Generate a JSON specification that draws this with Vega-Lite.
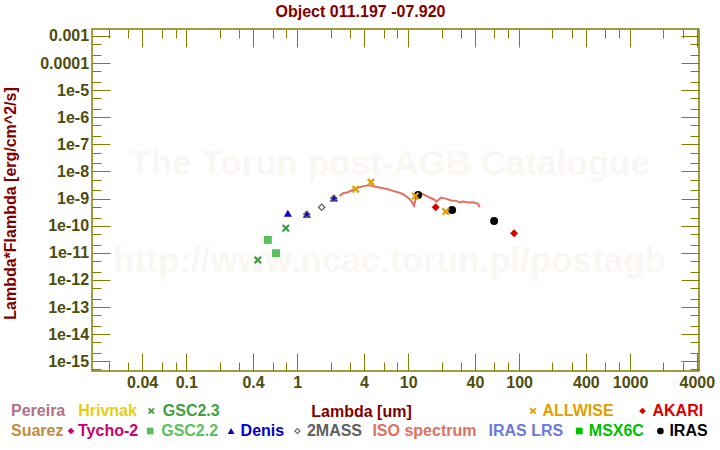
{
  "$schema": "https://vega.github.io/schema/vega-lite/v6.json",
  "width": 607,
  "height": 342,
  "autosize": {"type": "none"},
  "padding": {"left": 92, "top": 29, "right": 21, "bottom": 79},
  "background": "white",
  "title": {"text": "Object 011.197 -07.920", "anchor": "middle", "dx": -35, "offset": 8, "fontSize": 16, "fontWeight": "bold", "font": "Liberation Sans", "color": "#800000"},
  "config": {
    "view": {"stroke": "#808000", "strokeWidth": 1.5},
    "axis": {"domain": false, "grid": false, "tickColor": "#808000", "tickWidth": 1, "labelFont": "Liberation Sans", "labelFontSize": 16, "labelFontWeight": "bold", "labelColor": "#4d4d0d", "labelOverlap": false, "labelFlush": false, "labelBound": false, "titleFont": "Liberation Sans", "titleFontSize": 16, "titleFontWeight": "bold", "titleColor": "#800000"},
    "legend": {"labelFont": "Liberation Sans", "labelFontSize": 16, "labelFontWeight": "bold", "orient": "none", "direction": "horizontal", "padding": 0, "columnPadding": 0, "symbolSize": 45, "symbolStrokeWidth": 0}
  },
  "datasets": {
    "phot": [
      {"catalog": "GSC2.3", "lambda": 0.441, "flux": 5.48e-12},
      {"catalog": "GSC2.3", "lambda": 0.789, "flux": 8.11e-11},
      {"catalog": "GSC2.2", "lambda": 0.543, "flux": 3.0e-11},
      {"catalog": "GSC2.2", "lambda": 0.644, "flux": 9.7e-12},
      {"catalog": "Denis", "lambda": 0.823, "flux": 2.9e-10},
      {"catalog": "Denis", "lambda": 1.22, "flux": 2.67e-10},
      {"catalog": "Denis", "lambda": 2.14, "flux": 1.04e-9},
      {"catalog": "2MASS", "lambda": 1.22, "flux": 2.67e-10},
      {"catalog": "2MASS", "lambda": 1.66, "flux": 4.83e-10},
      {"catalog": "2MASS", "lambda": 2.14, "flux": 1.04e-9},
      {"catalog": "IRAS", "lambda": 12.3, "flux": 1.37e-9},
      {"catalog": "IRAS", "lambda": 24.9, "flux": 3.84e-10},
      {"catalog": "IRAS", "lambda": 59.5, "flux": 1.51e-10},
      {"catalog": "ALLWISE", "lambda": 3.36, "flux": 2.23e-9},
      {"catalog": "ALLWISE", "lambda": 4.62, "flux": 4.05e-9},
      {"catalog": "ALLWISE", "lambda": 11.6, "flux": 1.26e-9},
      {"catalog": "ALLWISE", "lambda": 21.8, "flux": 3.33e-10},
      {"catalog": "AKARI", "lambda": 17.7, "flux": 4.83e-10},
      {"catalog": "AKARI", "lambda": 90.1, "flux": 5.3e-11}
    ],
    "spec": [
      {"lambda": 2.409, "flux": 1.262e-9},
      {"lambda": 2.581, "flux": 1.585e-9},
      {"lambda": 2.864, "flux": 1.726e-9},
      {"lambda": 3.178, "flux": 2.104e-9},
      {"lambda": 3.65, "flux": 2.637e-9},
      {"lambda": 4.05, "flux": 2.951e-9},
      {"lambda": 4.493, "flux": 3.126e-9},
      {"lambda": 4.985, "flux": 2.79e-9},
      {"lambda": 5.342, "flux": 2.637e-9},
      {"lambda": 5.926, "flux": 2.421e-9},
      {"lambda": 6.577, "flux": 2.223e-9},
      {"lambda": 7.297, "flux": 1.931e-9},
      {"lambda": 8.094, "flux": 1.726e-9},
      {"lambda": 8.981, "flux": 1.455e-9},
      {"lambda": 9.627, "flux": 1.192e-9},
      {"lambda": 10.31, "flux": 9.51e-10},
      {"lambda": 10.9, "flux": 7.16e-10},
      {"lambda": 11.29, "flux": 5.39e-10},
      {"lambda": 11.52, "flux": 7.79e-10},
      {"lambda": 11.85, "flux": 1.192e-9},
      {"lambda": 12.7, "flux": 1.585e-9},
      {"lambda": 13.61, "flux": 1.455e-9},
      {"lambda": 14.59, "flux": 1.262e-9},
      {"lambda": 15.63, "flux": 1.096e-9},
      {"lambda": 16.99, "flux": 9.51e-10},
      {"lambda": 17.96, "flux": 7.79e-10},
      {"lambda": 18.98, "flux": 9.51e-10},
      {"lambda": 19.93, "flux": 1.096e-9},
      {"lambda": 22.11, "flux": 9.78e-10},
      {"lambda": 24.52, "flux": 8.49e-10},
      {"lambda": 27.21, "flux": 8.26e-10},
      {"lambda": 29.16, "flux": 7.16e-10},
      {"lambda": 31.25, "flux": 7.79e-10},
      {"lambda": 34.67, "flux": 7.16e-10},
      {"lambda": 38.47, "flux": 7.36e-10},
      {"lambda": 42.68, "flux": 6.4e-10},
      {"lambda": 44.19, "flux": 4.82e-10}
    ]
  },
  "layer": [
    {
      "data": {"values": [{}]},
      "mark": {"type": "text", "text": "The Torun post-AGB Catalogue", "font": "Liberation Sans", "fontSize": 35, "fontWeight": "bold", "color": "#faf7f2", "align": "center", "baseline": "alphabetic"},
      "encoding": {
        "x": {"datum": 6.81, "type": "quantitative", "scale": {"type": "log", "domain": [0.01412, 4185], "nice": false}, "axis": null},
        "y": {"datum": 7.5e-9, "type": "quantitative", "scale": {"type": "log", "domain": [4.39e-16, 1.8e-3], "nice": false}, "axis": null}
      }
    },
    {
      "data": {"values": [{}]},
      "mark": {"type": "text", "text": "http://www.ncac.torun.pl/postagb", "font": "Liberation Sans", "fontSize": 35, "fontWeight": "bold", "color": "#faf7f2", "align": "center", "baseline": "alphabetic"},
      "encoding": {
        "x": {"datum": 6.81, "type": "quantitative", "scale": {"type": "log", "domain": [0.01412, 4185], "nice": false}, "axis": null},
        "y": {"datum": 1.98e-12, "type": "quantitative", "scale": {"type": "log", "domain": [4.39e-16, 1.8e-3], "nice": false}, "axis": null}
      }
    },
    {
      "data": {"name": "spec"},
      "mark": {"type": "line", "color": "#e07060", "strokeWidth": 2},
      "encoding": {
        "x": {"field": "lambda", "type": "quantitative", "scale": {"type": "log", "domain": [0.01412, 4185], "nice": false},
          "axis": {"orient": "bottom", "values": [0.04, 0.1, 0.4, 1, 4, 10, 40, 100, 400, 1000, 4000], "tickSize": -18, "labelPadding": 21, "labelExpr": "'' + datum.value", "title": "Lambda [um]", "titleX": 269, "titleY": 45, "titleBaseline": "alphabetic"}},
        "y": {"field": "flux", "type": "quantitative", "scale": {"type": "log", "domain": [4.39e-16, 1.8e-3], "nice": false},
          "axis": {"orient": "left", "values": [1e-15, 1e-14, 1e-13, 1e-12, 1e-11, 1e-10, 1e-9, 1e-8, 1e-7, 1e-6, 1e-5, 1e-4, 1e-3], "tickSize": -18, "labelPadding": 21.4, "labelExpr": "datum.value > 5e-5 ? (datum.value > 5e-4 ? '0.001' : '0.0001') : '1e' + round(log(datum.value) / LN10)", "title": "Lambda*Flambda [erg/cm^2/s]", "titleX": -77, "titleY": 174, "titleAngle": -90, "titleBaseline": "alphabetic"}}
      }
    },
    {
      "data": {"name": "phot"},
      "transform": [{"filter": {"field": "catalog", "oneOf": ["GSC2.2", "Denis", "2MASS", "IRAS"]}}],
      "mark": {"type": "point", "filled": true, "size": 64, "opacity": 1},
      "encoding": {
        "x": {"field": "lambda", "type": "quantitative", "scale": {"type": "log", "domain": [0.01412, 4185], "nice": false},
          "axis": {"orient": "bottom", "values": [0.02, 0.03, 0.06, 0.08, 0.2, 0.3, 0.6, 0.8, 2, 3, 6, 8, 20, 30, 60, 80, 200, 300, 600, 800, 2000, 3000], "tickSize": -9, "labels": false, "title": null}},
        "y": {"field": "flux", "type": "quantitative", "scale": {"type": "log", "domain": [4.39e-16, 1.8e-3], "nice": false},
          "axis": {"orient": "left", "values": [5e-16, 2e-15, 5e-15, 2e-14, 5e-14, 2e-13, 5e-13, 2e-12, 5e-12, 2e-11, 5e-11, 2e-10, 5e-10, 2e-9, 5e-9, 2e-8, 5e-8, 2e-7, 5e-7, 2e-6, 5e-6, 2e-5, 5e-5, 2e-4, 5e-4], "tickSize": -9, "labels": false, "title": null}},
        "color": {"field": "catalog", "type": "nominal",
          "scale": {"domain": ["Suarez", "Tycho-2", "GSC2.2", "Denis", "2MASS", "ISO spectrum", "IRAS LRS", "MSX6C", "IRAS"], "range": ["#c08c40", "#cc0070", "#5cbf5c", "#0000c8", "#606060", "#e07060", "#6c78dc", "#00c000", "#000000"]},
          "legend": {"title": null, "legendX": -98.5, "legendY": 394,
            "labelColor": {"expr": "['#c08c40','#cc0070','#5cbf5c','#0000c8','#606060','#e07060','#6c78dc','#00c000','#000000'][indexof(['Suarez','Tycho-2','GSC2.2','Denis','2MASS','ISO spectrum','IRAS LRS','MSX6C','IRAS'], datum.value)]"},
            "labelOffset": {"expr": "[1.5,-1.0,3.0,1.5,1.5,-6.1,-4,1.5,1.0][indexof(['Suarez','Tycho-2','GSC2.2','Denis','2MASS','ISO spectrum','IRAS LRS','MSX6C','IRAS'], datum.value)]"},
            "symbolOffset": {"expr": "[0,-0.5,3.7,4.6,4.9,0,0,7.8,7.9][indexof(['Suarez','Tycho-2','GSC2.2','Denis','2MASS','ISO spectrum','IRAS LRS','MSX6C','IRAS'], datum.value)]"}}},
        "shape": {"field": "catalog", "type": "nominal",
          "scale": {"domain": ["Suarez", "Tycho-2", "GSC2.2", "Denis", "2MASS", "ISO spectrum", "IRAS LRS", "MSX6C", "IRAS"], "range": ["M0,0L0,0Z", "diamond", "square", "triangle-up", "M0,-1L1,0L0,1L-1,0ZM0,-0.55L-0.55,0L0,0.55L0.55,0Z", "M0,0L0,0Z", "M0,0L0,0Z", "square", "circle"]},
          "legend": {"title": null, "legendX": -98.5, "legendY": 394,
            "labelColor": {"expr": "['#c08c40','#cc0070','#5cbf5c','#0000c8','#606060','#e07060','#6c78dc','#00c000','#000000'][indexof(['Suarez','Tycho-2','GSC2.2','Denis','2MASS','ISO spectrum','IRAS LRS','MSX6C','IRAS'], datum.value)]"},
            "labelOffset": {"expr": "[1.5,-1.0,3.0,1.5,1.5,-6.1,-4,1.5,1.0][indexof(['Suarez','Tycho-2','GSC2.2','Denis','2MASS','ISO spectrum','IRAS LRS','MSX6C','IRAS'], datum.value)]"},
            "symbolOffset": {"expr": "[0,-0.5,3.7,4.6,4.9,0,0,7.8,7.9][indexof(['Suarez','Tycho-2','GSC2.2','Denis','2MASS','ISO spectrum','IRAS LRS','MSX6C','IRAS'], datum.value)]"}}}
      }
    },
    {
      "data": {"name": "phot"},
      "transform": [{"filter": {"field": "catalog", "oneOf": ["GSC2.3"]}}],
      "mark": {"type": "point", "filled": true, "size": 64, "opacity": 1},
      "encoding": {
        "x": {"field": "lambda", "type": "quantitative", "scale": {"type": "log", "domain": [0.01412, 4185], "nice": false},
          "axis": {"orient": "top", "values": [0.04, 0.1, 0.4, 1, 4, 10, 40, 100, 400, 1000, 4000], "tickSize": -18, "labels": false, "title": null}},
        "y": {"field": "flux", "type": "quantitative", "scale": {"type": "log", "domain": [4.39e-16, 1.8e-3], "nice": false},
          "axis": {"orient": "right", "values": [1e-15, 1e-14, 1e-13, 1e-12, 1e-11, 1e-10, 1e-9, 1e-8, 1e-7, 1e-6, 1e-5, 1e-4, 1e-3], "tickSize": -18, "labels": false, "title": null}},
        "color": {"field": "catalog", "type": "nominal",
          "scale": {"domain": ["Pereira", "Hrivnak", "GSC2.3"], "range": ["#b07088", "#e6cf10", "#40a040"]},
          "legend": {"title": null, "legendX": -98.5, "legendY": 374,
            "labelColor": {"expr": "['#b07088','#e6cf10','#40a040'][indexof(['Pereira','Hrivnak','GSC2.3'], datum.value)]"},
            "labelOffset": {"expr": "[1.5,-3.3,3.5][indexof(['Pereira','Hrivnak','GSC2.3'], datum.value)]"},
            "symbolOffset": {"expr": "[0,0,5.8][indexof(['Pereira','Hrivnak','GSC2.3'], datum.value)]"}}},
        "shape": {"field": "catalog", "type": "nominal",
          "scale": {"domain": ["Pereira", "Hrivnak", "GSC2.3"], "range": ["M0,0L0,0Z", "M0,0L0,0Z", "M-1,-0.6L-0.6,-1L0,-0.4L0.6,-1L1,-0.6L0.4,0L1,0.6L0.6,1L0,0.4L-0.6,1L-1,0.6L-0.4,0Z"]},
          "legend": {"title": null, "legendX": -98.5, "legendY": 374,
            "labelColor": {"expr": "['#b07088','#e6cf10','#40a040'][indexof(['Pereira','Hrivnak','GSC2.3'], datum.value)]"},
            "labelOffset": {"expr": "[1.5,-3.3,3.5][indexof(['Pereira','Hrivnak','GSC2.3'], datum.value)]"},
            "symbolOffset": {"expr": "[0,0,5.8][indexof(['Pereira','Hrivnak','GSC2.3'], datum.value)]"}}}
      }
    },
    {
      "data": {"name": "phot"},
      "transform": [{"filter": {"field": "catalog", "oneOf": ["ALLWISE", "AKARI"]}}],
      "mark": {"type": "point", "filled": true, "size": 64, "opacity": 1},
      "encoding": {
        "x": {"field": "lambda", "type": "quantitative", "scale": {"type": "log", "domain": [0.01412, 4185], "nice": false},
          "axis": {"orient": "top", "values": [0.02, 0.03, 0.06, 0.08, 0.2, 0.3, 0.6, 0.8, 2, 3, 6, 8, 20, 30, 60, 80, 200, 300, 600, 800, 2000, 3000], "tickSize": -9, "labels": false, "title": null}},
        "y": {"field": "flux", "type": "quantitative", "scale": {"type": "log", "domain": [4.39e-16, 1.8e-3], "nice": false},
          "axis": {"orient": "right", "values": [5e-16, 2e-15, 5e-15, 2e-14, 5e-14, 2e-13, 5e-13, 2e-12, 5e-12, 2e-11, 5e-11, 2e-10, 5e-10, 2e-9, 5e-9, 2e-8, 5e-8, 2e-7, 5e-7, 2e-6, 5e-6, 2e-5, 5e-5, 2e-4, 5e-4], "tickSize": -9, "labels": false, "title": null}},
        "color": {"field": "catalog", "type": "nominal",
          "scale": {"domain": ["ALLWISE", "AKARI"], "range": ["#e0a000", "#d80000"]},
          "legend": {"title": null, "legendX": 433, "legendY": 374,
            "labelColor": {"expr": "datum.value == 'ALLWISE' ? '#e0a000' : '#d80000'"},
            "labelOffset": {"expr": "datum.value == 'ALLWISE' ? 1.5 : 2.0"},
            "symbolOffset": {"expr": "datum.value == 'ALLWISE' ? 0 : 20.5"}}},
        "shape": {"field": "catalog", "type": "nominal",
          "scale": {"domain": ["ALLWISE", "AKARI"], "range": ["M-1,-0.6L-0.6,-1L0,-0.4L0.6,-1L1,-0.6L0.4,0L1,0.6L0.6,1L0,0.4L-0.6,1L-1,0.6L-0.4,0Z", "diamond"]},
          "legend": {"title": null, "legendX": 433, "legendY": 374,
            "labelColor": {"expr": "datum.value == 'ALLWISE' ? '#e0a000' : '#d80000'"},
            "labelOffset": {"expr": "datum.value == 'ALLWISE' ? 1.5 : 2.0"},
            "symbolOffset": {"expr": "datum.value == 'ALLWISE' ? 0 : 20.5"}}}
      }
    }
  ],
  "resolve": {
    "scale": {"color": "independent", "shape": "independent"},
    "axis": {"x": "independent", "y": "independent"}
  }
}
